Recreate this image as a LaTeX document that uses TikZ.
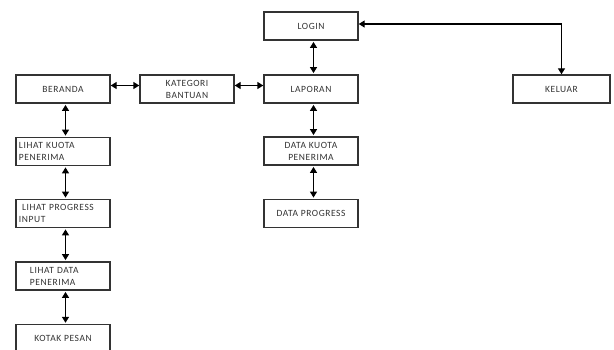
\documentclass[tikz,border=0pt]{standalone}
\usepackage{fontspec}
\setmainfont{Carlito}[LetterSpace=6]
\usetikzlibrary{arrows.meta, positioning}
\definecolor{boxline}{HTML}{333333}
\definecolor{menutext}{HTML}{333333}

\begin{document}
\begin{tikzpicture}[
  x=1pt, y=-1pt,
  >={Triangle[length=6pt, width=7pt]},
  menubox/.style={draw=boxline, line width=1.4pt, fill=white,
    minimum width=94pt, minimum height=28pt, inner sep=2pt,
    font=\fontsize{9.5}{12}\selectfont, text=menutext},
  leftbox/.style={menubox, align=left, text width=88pt},
  link/.style={<->, line width=1.4pt, black, shorten <=1.2pt, shorten >=1.2pt},
]

% Canvas
\useasboundingbox (0,0) rectangle (614,349);

% =============================================
% Top row
% =============================================
\node[menubox] (login) at (311,26) {LOGIN};
\node[menubox] (beranda) at (63,89) {BERANDA};
\node[menubox, align=center] (kategori) at (187,89) {KATEGORI\\BANTUAN};
\node[menubox] (laporan) at (311,89) {LAPORAN};
\node[menubox, minimum width=97pt] (keluar) at (561.5,89) {KELUAR};

% =============================================
% Left column
% =============================================
\node[leftbox] (lihatkuota) at (63,151.5) {LIHAT KUOTA\\PENERIMA};
\node[leftbox] (lihatprogress) at (63,213.5) {\hspace*{3pt}LIHAT PROGRESS\\INPUT};
\node[leftbox] (lihatdata) at (63,276) {\hspace*{11pt}LIHAT DATA\\\hspace*{11pt}PENERIMA};
\node[menubox, anchor=north] (kotakpesan) at (63,324) {KOTAK PESAN};

% =============================================
% Report column
% =============================================
\node[menubox, align=center] (datakuota) at (311,151) {DATA KUOTA\\PENERIMA};
\node[menubox] (dataprogress) at (311,213.5) {DATA PROGRESS};

% Horizontal links
\draw[link, shorten <=0pt, shorten >=0pt] ([yshift=3.5pt]beranda.east) -- ([yshift=3.5pt]kategori.west);
\draw[link, shorten <=0pt, shorten >=0pt] ([yshift=3.5pt]kategori.east) -- ([yshift=3.5pt]laporan.west);

% Vertical links
\draw[link] ([xshift=2.5pt]login.south) -- ([xshift=2.5pt]laporan.north);
\draw[link] ([xshift=2.5pt]laporan.south) -- ([xshift=2.5pt]datakuota.north);
\draw[link] ([xshift=2.5pt]datakuota.south) -- ([xshift=2.5pt]dataprogress.north);
\draw[link] ([xshift=2.5pt]beranda.south) -- ([xshift=2.5pt]lihatkuota.north);
\draw[link] ([xshift=2.5pt]lihatkuota.south) -- ([xshift=2.5pt]lihatprogress.north);
\draw[link] ([xshift=2.5pt]lihatprogress.south) -- ([xshift=2.5pt]lihatdata.north);
\draw[link] ([xshift=2.5pt]lihatdata.south) -- ([xshift=2.5pt]kotakpesan.north);

% Login to logout
\draw[<->, line width=1.3pt, black] ([yshift=2pt]login.east) -| (keluar.north);

\end{tikzpicture}
\end{document}
